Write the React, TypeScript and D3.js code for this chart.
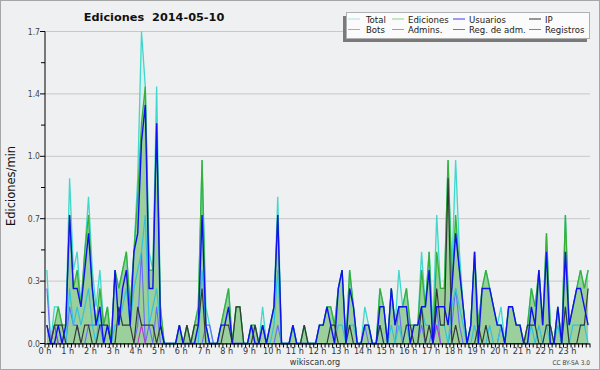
import React from "react";
import * as d3 from "d3";

// Edits per 10-minute bucket (144 buckets, 00:00 .. 23:50); chart shows edits/min = count / 10
const BUCKET_MINUTES = 10;

const total = [
  4,0,2,2,1,1,9,4,5,2,5,8,
  4,2,4,1,2,0,4,3,4,5,2,5,
  9,17,14,5,4,14,2,0,0,0,0,1,
  0,1,0,1,2,10,2,1,0,0,1,2,
  3,0,2,2,0,0,1,1,0,2,0,1,
  2,8,0,0,0,1,0,0,1,0,0,0,
  1,1,2,2,1,3,4,0,4,2,0,0,
  2,1,0,0,3,2,0,3,1,4,2,3,
  1,1,1,5,2,5,1,7,3,3,10,4,
  10,5,2,0,1,5,1,3,4,3,2,1,
  2,0,2,2,1,1,0,1,3,2,4,1,
  6,1,0,2,0,7,1,2,3,4,3,4,
];
const edits = [
  1,0,1,2,1,1,7,3,4,2,5,7,
  3,1,3,1,2,0,4,3,4,5,2,5,
  8,12,14,4,4,12,2,0,0,0,0,1,
  0,1,0,1,2,10,1,0,0,0,1,2,
  3,0,2,2,0,0,1,1,0,1,0,1,
  2,7,0,0,0,1,0,0,1,0,0,0,
  1,1,2,2,1,3,4,0,4,2,0,0,
  1,1,0,0,3,2,0,3,1,2,2,3,
  1,1,1,4,2,5,0,5,3,3,10,3,
  7,4,2,0,1,5,1,3,4,3,2,1,
  1,0,2,2,1,1,0,1,3,2,4,1,
  6,1,0,2,0,7,1,2,3,4,3,4,
];
const users = [
  1,0,0,1,0,1,7,3,3,2,4,6,
  3,1,2,0,1,0,4,1,3,4,1,5,
  6,11,13,3,3,12,1,0,0,0,0,1,
  0,0,0,0,1,7,1,0,0,0,1,1,
  2,0,0,0,0,0,1,0,0,1,0,1,
  2,7,0,0,0,1,0,0,0,0,0,0,
  1,1,2,1,0,3,4,0,3,2,0,0,
  1,1,0,0,2,2,0,3,1,2,2,2,
  0,1,1,2,2,4,0,2,2,2,1,3,
  6,4,2,0,1,5,0,3,3,3,2,1,
  1,0,2,2,1,1,0,0,2,1,4,1,
  5,0,0,2,0,5,1,2,3,3,2,1,
];
const ip = [
  0,0,1,1,1,0,0,0,1,0,1,1,
  0,0,1,1,1,0,0,2,1,1,1,0,
  2,1,1,1,1,0,1,0,0,0,0,0,
  0,1,0,1,1,3,0,0,0,0,0,1,
  1,0,2,2,0,0,0,1,0,0,0,0,
  0,0,0,0,0,0,0,0,1,0,0,0,
  0,0,0,1,1,0,0,0,1,0,0,0,
  0,0,0,0,1,0,0,0,0,0,0,1,
  1,0,0,2,0,1,0,3,1,1,9,0,
  1,0,0,0,0,0,1,0,1,0,0,0,
  0,0,0,0,0,0,0,1,1,1,0,0,
  1,1,0,0,0,2,0,0,0,1,1,3,
];
const bots = [
  0,0,0,0,0,0,0,0,0,0,0,0,
  0,0,0,0,0,0,0,0,0,0,0,0,
  0,0,0,0,0,0,0,0,0,0,0,0,
  0,0,0,0,0,0,0,0,0,0,0,0,
  0,0,0,0,0,0,0,0,0,0,0,0,
  0,0,0,0,0,0,0,0,0,0,0,0,
  0,0,0,0,0,0,0,0,0,0,0,0,
  0,0,0,0,0,0,0,0,0,0,0,0,
  0,0,0,0,0,0,0,0,0,0,0,0,
  0,0,0,0,0,0,0,0,0,0,0,0,
  0,0,0,0,0,0,0,0,0,0,0,0,
  0,0,0,0,0,0,0,0,0,0,0,0,
];
const admins = [
  0,0,0,0,0,0,3,1,2,1,2,3,
  1,0,2,0,0,0,1,1,2,3,1,3,
  4,5,7,1,2,3,1,0,0,0,0,0,
  0,0,0,0,0,4,1,0,0,0,0,0,
  0,0,0,0,0,0,0,0,0,0,0,0,
  1,4,0,0,0,1,0,0,0,0,0,0,
  0,0,0,0,0,1,1,0,1,1,0,0,
  0,0,0,0,1,0,0,1,0,1,0,1,
  0,0,0,2,1,1,0,1,1,1,0,2,
  3,2,1,0,0,1,0,0,0,1,0,0,
  1,0,0,0,0,0,0,0,1,0,1,0,
  1,0,0,1,0,2,0,1,1,1,1,0,
];
const adminLogs = [
  1,0,1,0,0,0,0,0,0,0,0,0,
  0,0,0,0,0,0,0,0,0,0,0,0,
  0,1,0,0,0,0,0,0,0,0,0,0,
  0,0,0,0,0,0,0,0,0,0,0,0,
  0,0,0,0,0,0,0,0,0,0,0,0,
  0,0,0,0,0,0,0,0,0,0,0,0,
  0,0,0,0,0,0,0,0,0,0,0,0,
  0,0,0,0,0,0,0,0,0,0,0,0,
  0,0,0,0,0,0,0,1,0,0,0,0,
  0,0,0,0,0,0,0,0,0,0,0,0,
  0,0,0,0,0,0,0,0,0,0,0,0,
  0,0,0,0,0,0,0,0,0,0,0,0,
];
const logs = [
  3,0,1,0,0,0,2,1,1,0,0,1,
  1,1,1,0,0,0,0,0,0,0,0,0,
  1,5,0,1,0,2,0,0,0,0,0,0,
  0,0,0,0,0,0,1,1,0,0,0,0,
  0,0,0,0,0,0,0,0,0,1,0,0,
  0,1,0,0,0,0,0,0,0,0,0,0,
  0,0,0,0,0,0,0,0,0,0,0,0,
  1,0,0,0,0,0,0,0,0,2,0,0,
  0,0,0,1,0,0,1,2,0,0,0,1,
  3,1,0,0,0,0,0,0,0,0,0,0,
  1,0,0,0,0,0,0,0,0,0,0,0,
  0,0,0,0,0,0,0,0,0,0,0,0,
];

const hourLabels = [
  "0 h","1 h","2 h","3 h","4 h","5 h","6 h","7 h","8 h","9 h","10 h","11 h",
  "12 h","13 h","14 h","15 h","16 h","17 h","18 h","19 h","20 h","21 h","22 h","23 h",
];
const yMax = 1.7;
const yTickLabels = ["0.0", "0.3", "0.7", "1.0", "1.4", "1.7"];

const legendItems = [
  { label: "Total", color: "#a8e4e4" },
  { label: "Ediciones", color: "#8ed08e" },
  { label: "Usuarios", color: "#3a3aee" },
  { label: "IP", color: "#333333" },
  { label: "Bots", color: "#f0a040" },
  { label: "Admins.", color: "#44c4dc" },
  { label: "Reg. de adm.", color: "#d040d0" },
  { label: "Registros", color: "#7878f0" },
];

const W = 600, H = 370;
const L = 45, R = 590, T = 31.5, B = 343.5;
const FONT = "DejaVu Sans, Verdana, sans-serif";
const FONT_C = "'DejaVu Sans Condensed', 'DejaVu Sans', sans-serif";

export default function App() {
  const n = total.length;
  const x = d3.scaleLinear().domain([0, n]).range([L, R]);
  const y = d3.scaleLinear().domain([0, yMax]).range([B, T]);
  const toVal = (c: number) => c / BUCKET_MINUTES;

  const line = d3.line<number>().x((_, i) => x(i + 0.5)).y((d) => y(toVal(d)));
  const area = d3.area<number>().x((_, i) => x(i + 0.5)).y0(B).y1((d) => y(toVal(d)));

  const yTicks = yTickLabels.map((_, i) => (yMax * i) / (yTickLabels.length - 1));
  const yMinor = d3.range(yTickLabels.length - 1).map((i) => (yTicks[i] + yTicks[i + 1]) / 2);
  const hourX = (h: number) => x((h * 60) / BUCKET_MINUTES);
  const minorX = d3.range(0, n + 1).map((i) => x(i));

  const series = [
    { data: logs, color: "#6a6aff", w: 1.1 },
    { data: admins, color: "#33c2dd", w: 1.2 },
    { data: bots, color: "#ff9933", w: 1.1 },
    { data: adminLogs, color: "#c030d0", w: 1.1 },
    { data: ip, color: "#333a33", w: 1.2 },
    { data: users, color: "#1010f0", w: 1.4 },
  ];

  return (
    <svg width={W} height={H} style={{ position: "absolute", left: 0, top: 0, display: "block" }} fontFamily={FONT}>
      <rect x={0.5} y={0.5} width={W - 1} height={H - 1} fill="#eff0f1" stroke="#a6a6a6" />
      {yTicks.map((v, i) => (
        <line key={"g" + i} x1={L} x2={R} y1={y(v)} y2={y(v)} stroke="#c8c8c8" strokeWidth={1} />
      ))}
      <path d={area(total) || ""} fill="#cdeeea" opacity={0.6} />
      <path d={area(edits) || ""} fill="#8fca8f" opacity={0.85} />
      <path d={line(total) || ""} fill="none" stroke="#3ed8cc" strokeWidth={1.3} />
      <path d={line(edits) || ""} fill="none" stroke="#36b036" strokeWidth={1.3} />
      {series.map((s, i) => (
        <path key={"s" + i} d={line(s.data) || ""} fill="none" stroke={s.color} strokeWidth={s.w} />
      ))}
      <line x1={L} x2={L} y1={T} y2={B} stroke="#000" strokeWidth={1} />
      {yTicks.map((v, i) => (
        <g key={"yt" + i}>
          <line x1={L - 5} x2={L} y1={y(v)} y2={y(v)} stroke="#000" />
          <text x={L - 5} y={y(v) + 3} textAnchor="end" fontSize={8.5} fill="#444" fontFamily={FONT_C}>{yTickLabels[i]}</text>
        </g>
      ))}
      {yMinor.map((v, i) => (
        <line key={"ym" + i} x1={L - 4} x2={L} y1={y(v)} y2={y(v)} stroke="#000" />
      ))}
      <line x1={L} x2={R} y1={B + 0.5} y2={B + 0.5} stroke="#000" strokeWidth={1.2} />
      {minorX.map((xx, i) => (
        <line key={"xm" + i} x1={xx} x2={xx} y1={B} y2={B + 4} stroke="#000" />
      ))}
      {hourLabels.map((lab, h) => (
        <text key={"xl" + h} x={hourX(h)} y={B + 10.5} textAnchor="middle" fontSize={9} fill="#333" fontFamily={FONT_C}>{lab}</text>
      ))}
      <text x={315} y={365} textAnchor="middle" fontSize={9} fill="#333" fontFamily={FONT_C}>wikiscan.org</text>
      <text x={590} y={365} textAnchor="end" fontSize={6.5} fill="#444" fontFamily={FONT_C}>CC BY-SA  3.0</text>
      <text transform={`translate(15,186) rotate(-90)`} textAnchor="middle" fontSize={11.5} fill="#111">Ediciones/min</text>
      <text x={154} y={21} textAnchor="middle" fontSize={11.3} fontWeight="bold" fill="#111" style={{ whiteSpace: "pre" }}>
        {"Ediciones  2014-05-10"}
      </text>
      <rect x={343} y={16} width={244} height={26} fill="#7a7a7a" />
      <rect x={346.5} y={12.5} width={243} height={26} fill="#fbfbfb" stroke="#b0b0b0" />
      {legendItems.map((it, i) => {
        const col = i % 4, row = Math.floor(i / 4);
        const colX = [348, 392, 453, 529][col];
        const textX = [366, 408, 469, 545][col];
        const yy = 19 + row * 10.5;
        return (
          <g key={"lg" + i}>
            <line x1={colX} x2={colX + 12} y1={yy} y2={yy} stroke={it.color} strokeWidth={1} />
            <text x={textX} y={yy + 3.5} fontSize={9.5} fill="#222" fontFamily={FONT_C}>{it.label}</text>
          </g>
        );
      })}
    </svg>
  );
}
